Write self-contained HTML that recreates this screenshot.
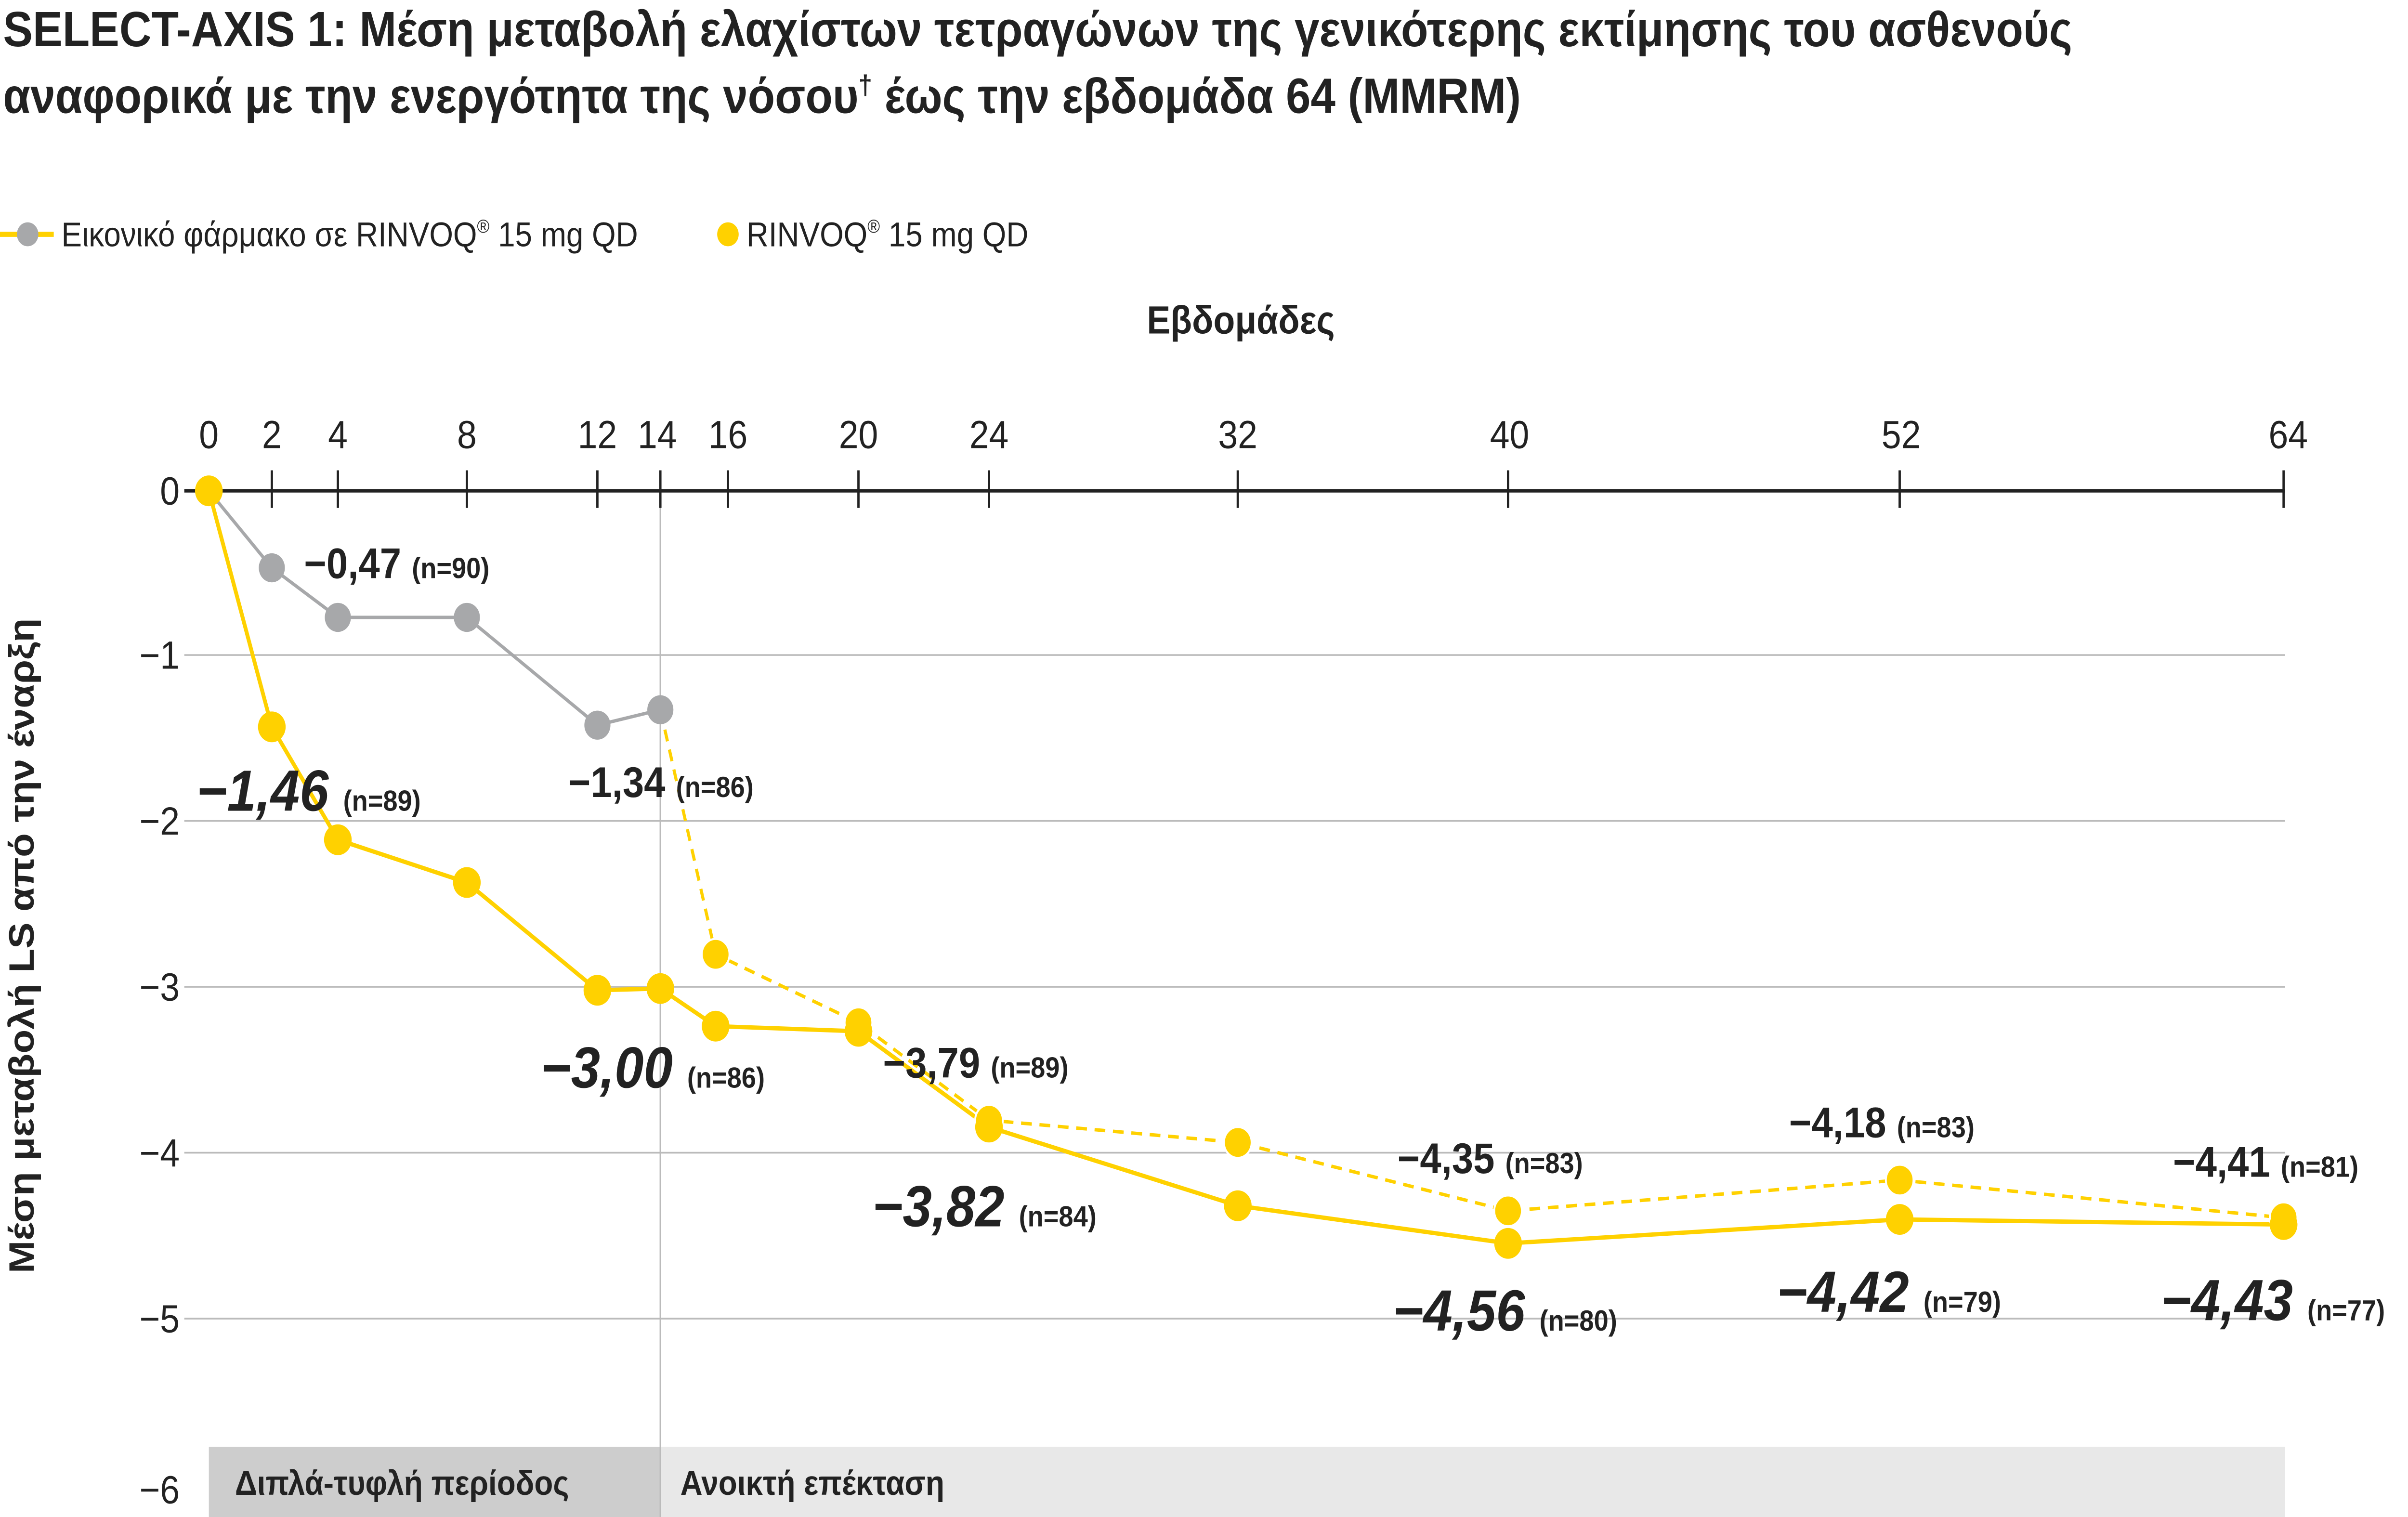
<!DOCTYPE html>
<html><head><meta charset="utf-8"><style>
html,body{margin:0;padding:0;background:#fff;width:100%;height:100%;overflow:hidden;}
svg{display:block;width:100vw;height:100vh;}
text{font-family:"Liberation Sans Narrow","Liberation Sans","DejaVu Sans",sans-serif;fill:#222;}
.b{font-weight:bold;}
.big{font-family:"Liberation Sans","DejaVu Sans",sans-serif;font-style:italic;font-weight:bold;font-size:34px;}
.n{font-weight:bold;font-size:17px;}
</style></head><body>
<svg viewBox="0 0 1568 887" preserveAspectRatio="none" xmlns="http://www.w3.org/2000/svg">
<rect width="1568" height="887" fill="#fff"/>
<text x="2" y="27" class="b" style="font-size:29px">SELECT-AXIS 1: Μέση μεταβολή ελαχίστων τετραγώνων της γενικότερης εκτίμησης του ασθενούς</text>
<text x="2" y="66" class="b" style="font-size:29px">αναφορικά με την ενεργότητα της νόσου<tspan dy="-11" style="font-size:16px">†</tspan><tspan dy="11"> έως την εβδομάδα 64 (MMRM)</tspan></text>
<line x1="0" y1="137" x2="35" y2="137" stroke="#ffd100" stroke-width="3"/>
<circle cx="18" cy="137" r="7" fill="#a7a8aa"/>
<text x="40" y="144" style="font-size:20px">Εικονικό φάρμακο σε RINVOQ<tspan dy="-8" style="font-size:11px">®</tspan><tspan dy="8"> 15 mg QD</tspan></text>
<circle cx="474" cy="137" r="7" fill="#ffd100"/>
<text x="486" y="144" style="font-size:20px">RINVOQ<tspan dy="-8" style="font-size:11px">®</tspan><tspan dy="8"> 15 mg QD</tspan></text>
<text x="808" y="195" class="b" text-anchor="middle" style="font-size:23px">Εβδομάδες</text>
<rect x="136" y="846" width="294" height="41" fill="#cdcdcd"/>
<rect x="430" y="846" width="1058" height="41" fill="#e8e8e8"/>
<text x="153" y="874" class="b" style="font-size:20px">Διπλά-τυφλή περίοδος</text>
<text x="443" y="874" class="b" style="font-size:20px">Ανοικτή επέκταση</text>
<g stroke="#bbb" stroke-width="1">
<line x1="120" y1="383" x2="1488" y2="383"/><line x1="120" y1="480" x2="1488" y2="480"/>
<line x1="120" y1="577" x2="1488" y2="577"/><line x1="120" y1="674" x2="1488" y2="674"/>
<line x1="120" y1="771" x2="1488" y2="771"/><line x1="430" y1="287" x2="430" y2="887"/>
</g>
<line x1="120" y1="287" x2="1488" y2="287" stroke="#222" stroke-width="2"/>
<g stroke="#222" stroke-width="1.5">
<line x1="177" y1="275" x2="177" y2="297"/><line x1="220" y1="275" x2="220" y2="297"/><line x1="304" y1="275" x2="304" y2="297"/><line x1="389" y1="275" x2="389" y2="297"/><line x1="430" y1="275" x2="430" y2="297"/><line x1="474" y1="275" x2="474" y2="297"/><line x1="559" y1="275" x2="559" y2="297"/><line x1="644" y1="275" x2="644" y2="297"/><line x1="806" y1="275" x2="806" y2="297"/><line x1="982" y1="275" x2="982" y2="297"/><line x1="1237" y1="275" x2="1237" y2="297"/><line x1="1487" y1="275" x2="1487" y2="297"/>
</g>
<g style="font-size:23px" text-anchor="middle">
<text x="136" y="262">0</text><text x="177" y="262">2</text><text x="220" y="262">4</text><text x="304" y="262">8</text><text x="389" y="262">12</text><text x="428" y="262">14</text><text x="474" y="262">16</text><text x="559" y="262">20</text><text x="644" y="262">24</text><text x="806" y="262">32</text><text x="983" y="262">40</text><text x="1238" y="262">52</text><text x="1490" y="262">64</text>
</g>
<g style="font-size:23px" text-anchor="end">
<text x="117" y="295">0</text><text x="117" y="391">−1</text><text x="117" y="488">−2</text><text x="117" y="585">−3</text><text x="117" y="682">−4</text><text x="117" y="779">−5</text><text x="117" y="879">−6</text>
</g>
<text transform="translate(22,553) rotate(-90)" class="b" text-anchor="middle" style="font-size:23px">Μέση μεταβολή LS από την έναρξη</text>
<polyline points="136,287 177,332 220,361 304,361 389,424 430,415" fill="none" stroke="#a7a8aa" stroke-width="2"/>
<polyline points="430,415 466,558 559,598 644,655 806,668 982,708 1237,690 1487,712" fill="none" stroke="#ffd100" stroke-width="2" stroke-dasharray="7,5"/>
<polyline points="136,287 177,425 220,491 304,516 389,579 430,578 466,600 559,603 644,659 806,705 982,727 1237,713 1487,716" fill="none" stroke="#ffd100" stroke-width="2.5"/>
<g fill="#a7a8aa"><circle cx="177" cy="332" r="8.5"/><circle cx="220" cy="361" r="8.5"/><circle cx="304" cy="361" r="8.5"/><circle cx="389" cy="424" r="8.5"/><circle cx="430" cy="415" r="8.5"/></g>
<g fill="#ffd100" stroke="#fff" stroke-width="1.2"><circle cx="466" cy="558" r="9"/><circle cx="559" cy="598" r="9"/><circle cx="644" cy="655" r="9"/><circle cx="806" cy="668" r="9"/><circle cx="982" cy="708" r="9"/><circle cx="1237" cy="690" r="9"/><circle cx="1487" cy="712" r="9"/></g>
<g fill="#ffd100"><circle cx="136" cy="287" r="9"/><circle cx="177" cy="425" r="9"/><circle cx="220" cy="491" r="9"/><circle cx="304" cy="516" r="9"/><circle cx="389" cy="579" r="9"/><circle cx="430" cy="578" r="9"/><circle cx="466" cy="600" r="9"/><circle cx="559" cy="603" r="9"/><circle cx="644" cy="659" r="9"/><circle cx="806" cy="705" r="9"/><circle cx="982" cy="727" r="9"/><circle cx="1237" cy="713" r="9"/><circle cx="1487" cy="716" r="9"/></g>
<text x="198" y="338" class="b" style="font-size:25px">−0,47 <tspan class="n">(n=90)</tspan></text>
<text x="370" y="466" class="b" style="font-size:25px">−1,34 <tspan class="n">(n=86)</tspan></text>
<text x="575" y="630" class="b" style="font-size:25px">−3,79 <tspan class="n">(n=89)</tspan></text>
<text x="910" y="686" class="b" style="font-size:25px">−4,35 <tspan class="n">(n=83)</tspan></text>
<text x="1165" y="665" class="b" style="font-size:25px">−4,18 <tspan class="n">(n=83)</tspan></text>
<text x="1415" y="688" class="b" style="font-size:25px">−4,41 <tspan class="n">(n=81)</tspan></text>
<text x="128" y="474" class="big">−1,46 <tspan class="n" style="font-style:normal;font-family:'Liberation Sans Narrow','Liberation Sans',sans-serif">(n=89)</tspan></text>
<text x="352" y="636" class="big">−3,00 <tspan class="n" style="font-style:normal;font-family:'Liberation Sans Narrow','Liberation Sans',sans-serif">(n=86)</tspan></text>
<text x="568" y="717" class="big">−3,82 <tspan class="n" style="font-style:normal;font-family:'Liberation Sans Narrow','Liberation Sans',sans-serif">(n=84)</tspan></text>
<text x="907" y="778" class="big">−4,56 <tspan class="n" style="font-style:normal;font-family:'Liberation Sans Narrow','Liberation Sans',sans-serif">(n=80)</tspan></text>
<text x="1157" y="767" class="big">−4,42 <tspan class="n" style="font-style:normal;font-family:'Liberation Sans Narrow','Liberation Sans',sans-serif">(n=79)</tspan></text>
<text x="1407" y="772" class="big">−4,43 <tspan class="n" style="font-style:normal;font-family:'Liberation Sans Narrow','Liberation Sans',sans-serif">(n=77)</tspan></text>
</svg>
</body></html>
